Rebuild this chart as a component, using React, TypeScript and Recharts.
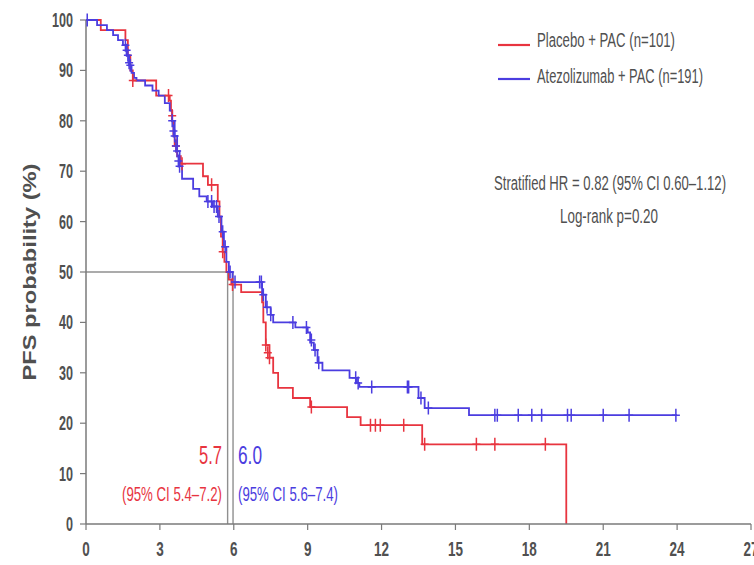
import React from "react";
import { ComposedChart, Line, Scatter, XAxis, YAxis, ReferenceLine } from "recharts";

const X_TICKS = [0, 3, 6, 9, 12, 15, 18, 21, 24, 27];
const Y_TICKS = [0, 10, 20, 30, 40, 50, 60, 70, 80, 90, 100];

// Placebo + PAC (n=101) — Kaplan–Meier steps (months, PFS %)
const PLACEBO_T = [0, 0.6, 1.6, 1.7, 1.8, 1.9, 2.85, 3.4, 3.45, 3.5, 3.55, 3.6, 3.7, 3.85, 4.75, 4.95, 5.35, 5.42, 5.48, 5.55, 5.62, 5.7, 5.8, 5.9, 6.3, 7.15, 7.2, 7.3, 7.45, 7.6, 7.8, 8.4, 9.1, 10.6, 11.15, 13.65, 19.5];
const PLACEBO_S = [100, 98, 96, 93, 90, 88, 85, 84, 82, 80, 77, 75, 73, 71.5, 69, 67.3, 64, 61, 57, 54, 52, 50, 48.5, 47.5, 46, 44, 40, 35.5, 33, 30, 27, 25, 23.2, 21.2, 19.6, 15.8, 0];

// Atezolizumab + PAC (n=191)
const ATEZO_T = [0, 0.45, 0.85, 1.1, 1.3, 1.5, 1.65, 1.75, 1.85, 1.95, 2.05, 2.4, 2.7, 2.95, 3.2, 3.4, 3.5, 3.6, 3.7, 3.8, 3.9, 4.35, 4.6, 4.9, 5.15, 5.35, 5.5, 5.6, 5.7, 5.8, 5.95, 7.15, 7.3, 7.5, 7.6, 8.5, 9.0, 9.1, 9.25, 9.4, 9.6, 10.7, 11.0, 11.1, 13.5, 13.75, 15.55, 24.0];
const ATEZO_S = [100, 99, 98, 97, 96, 95, 93, 91, 89.5, 88.5, 88, 87, 86, 85, 83.5, 82, 80, 77, 74, 71, 68.5, 66.5, 65, 64, 63, 61, 58, 55, 52, 50, 48, 45.5, 43, 41.5, 40, 39, 38, 36, 34.5, 32, 30.5, 29, 28, 27.2, 25, 23, 21.6, 21.6];

// Censoring marks
const PLACEBO_CENSOR_T = [1.9, 3.35, 3.5, 3.65, 3.9, 5.1, 5.55, 5.95, 7.3, 7.38, 7.45, 9.15, 11.55, 11.75, 11.95, 12.9, 13.75, 15.85, 16.6, 18.65];
const PLACEBO_CENSOR_S = [88, 85, 81, 75, 71.5, 67.3, 54, 47.5, 35.5, 34, 33, 23.2, 19.6, 19.6, 19.6, 19.6, 15.8, 15.8, 15.8, 15.8];
const ATEZO_CENSOR_T = [0.05, 1.6, 1.65, 1.7, 1.75, 1.8, 3.5, 3.55, 3.6, 3.65, 3.7, 3.75, 3.8, 4.95, 5.1, 5.2, 5.3, 5.4, 5.55, 5.65, 5.85, 6.05, 7.05, 7.12, 7.2, 7.35, 7.5, 8.4, 8.95, 9.15, 9.3, 9.45, 10.95, 11.05, 11.6, 13.05, 13.1, 13.6, 13.9, 16.6, 16.7, 17.55, 18.1, 18.5, 19.55, 19.7, 21.0, 22.05, 23.95];
const ATEZO_CENSOR_S = [100, 95, 94, 93, 91.5, 91, 80, 78, 77, 75, 74, 72, 71, 64, 64, 63, 63, 61, 58, 55, 50, 48, 48, 48, 45.5, 43, 41.5, 40, 39, 36.5, 34.5, 32, 29, 28, 27.2, 27.2, 27.2, 25, 23, 21.6, 21.6, 21.6, 21.6, 21.6, 21.6, 21.6, 21.6, 21.6, 21.6];

// Median PFS guide lines (drawn positions) and labels
const MEDIAN_PLACEBO_X = 5.75;
const MEDIAN_ATEZO_X = 5.97;
const MEDIAN_Y = 50;

const SERIES_NAMES = ["Placebo + PAC (n=101)", "Atezolizumab + PAC (n=191)"];
const HR_TEXT = "Stratified HR = 0.82 (95% CI 0.60\u20131.12)";
const P_TEXT = "Log-rank p=0.20";
const MEDIAN_LABELS = ["5.7", "6.0"];
const MEDIAN_CI = ["(95% CI 5.4\u20137.2)", "(95% CI 5.6\u20137.4)"];
const Y_LABEL = "PFS probability (%)";

const RED = "#e8343f";
const BLUE = "#4b3de0";
const GRAY_TEXT = "#505050";
const AXIS = "#7a7a7a";
const FONT = "'Liberation Sans Narrow','Liberation Sans',Arial,sans-serif";

const zip = (t: number[], s: number[]) => t.map((v, i) => ({ t: v, s: s[i] }));
const placeboData = zip(PLACEBO_T, PLACEBO_S);
const atezoData = zip(ATEZO_T, ATEZO_S);
const placeboCensor = zip(PLACEBO_CENSOR_T, PLACEBO_CENSOR_S);
const atezoCensor = zip(ATEZO_CENSOR_T, ATEZO_CENSOR_S);

const makeCross = (color: string) => (props: any) => {
  const { cx, cy } = props;
  if (cx == null || cy == null) return <g />;
  return (
    <path
      d={`M${cx - 4},${cy}H${cx + 4}M${cx},${cy - 6.5}V${cy + 6.5}`}
      stroke={color}
      strokeWidth={1.5}
      fill="none"
    />
  );
};

const YTick = (props: any) => {
  const { x, y, payload } = props;
  const label = String(payload.value);
  return (
    <text
      x={x}
      y={y + 7}
      textAnchor="end"
      fontSize={20}
      fontWeight="bold"
      fill={GRAY_TEXT}
      fontFamily={FONT}
      textLength={label.length * 7}
      lengthAdjust="spacingAndGlyphs"
    >
      {label}
    </text>
  );
};

const XTick = (props: any) => {
  const { x, y, payload } = props;
  const label = String(payload.value);
  return (
    <text
      x={x}
      y={y + 24}
      textAnchor="middle"
      fontSize={20}
      fontWeight="bold"
      fill={GRAY_TEXT}
      fontFamily={FONT}
      textLength={label.length * 7.5}
      lengthAdjust="spacingAndGlyphs"
    >
      {label}
    </text>
  );
};

const T = (p: any) => (
  <text fontFamily={FONT} lengthAdjust="spacingAndGlyphs" {...p} />
);

export default function App() {
  return (
    <div style={{ position: "absolute", left: 0, top: 0, width: 754, height: 565, background: "#fff", overflow: "hidden" }}>
      <ComposedChart
        width={754}
        height={565}
        margin={{ top: 20, right: 3, bottom: 0, left: 0 }}
      >
        <XAxis
          type="number"
          dataKey="t"
          domain={[0, 27]}
          ticks={X_TICKS}
          interval={0}
          allowDataOverflow
          height={41}
          tickSize={6}
          tick={<XTick />}
          axisLine={{ stroke: AXIS, strokeWidth: 1.5 }}
          tickLine={{ stroke: AXIS, strokeWidth: 1.2 }}
        />
        <YAxis
          type="number"
          domain={[0, 100]}
          ticks={Y_TICKS}
          interval={0}
          width={86}
          tickSize={6}
          tickMargin={7}
          tick={<YTick />}
          axisLine={{ stroke: AXIS, strokeWidth: 1.5 }}
          tickLine={{ stroke: AXIS, strokeWidth: 1.2 }}
        />
        <ReferenceLine
          segment={[{ x: 0, y: MEDIAN_Y }, { x: MEDIAN_ATEZO_X, y: MEDIAN_Y }]}
          stroke="#8f8f8f"
          strokeWidth={1.6}
        />
        <ReferenceLine
          segment={[{ x: MEDIAN_PLACEBO_X, y: 0 }, { x: MEDIAN_PLACEBO_X, y: MEDIAN_Y }]}
          stroke="#8f8f8f"
          strokeWidth={1.4}
        />
        <ReferenceLine
          segment={[{ x: MEDIAN_ATEZO_X, y: 0 }, { x: MEDIAN_ATEZO_X, y: MEDIAN_Y }]}
          stroke="#8f8f8f"
          strokeWidth={1.4}
        />
        <Line
          data={placeboData}
          dataKey="s"
          type="stepAfter"
          stroke={RED}
          strokeWidth={1.8}
          dot={false}
          activeDot={false}
          isAnimationActive={false}
        />
        <Line
          data={atezoData}
          dataKey="s"
          type="stepAfter"
          stroke={BLUE}
          strokeWidth={1.8}
          dot={false}
          activeDot={false}
          isAnimationActive={false}
        />
        <Scatter data={placeboCensor} dataKey="s" shape={makeCross(RED)} isAnimationActive={false} />
        <Scatter data={atezoCensor} dataKey="s" shape={makeCross(BLUE)} isAnimationActive={false} />
      </ComposedChart>
      <svg
        width={754}
        height={565}
        style={{ position: "absolute", left: 0, top: 0, pointerEvents: "none" }}
      >
        {/* legend */}
        <line x1={498} x2={530} y1={45} y2={45} stroke={RED} strokeWidth={2.2} />
        <line x1={498} x2={530} y1={79} y2={79} stroke={BLUE} strokeWidth={2.2} />
        <T x={537} y={47} fontSize={20} fill={GRAY_TEXT} textLength={138}>{SERIES_NAMES[0]}</T>
        <T x={537} y={83} fontSize={20} fill={GRAY_TEXT} textLength={166}>{SERIES_NAMES[1]}</T>
        {/* stats */}
        <T x={610} y={190} fontSize={20} fill={GRAY_TEXT} textAnchor="middle" textLength={232}>{HR_TEXT}</T>
        <T x={609} y={223} fontSize={20} fill={GRAY_TEXT} textAnchor="middle" textLength={98}>{P_TEXT}</T>
        {/* medians */}
        <T x={222} y={464} fontSize={26} fill={RED} textAnchor="end" textLength={23}>{MEDIAN_LABELS[0]}</T>
        <T x={238} y={464} fontSize={26} fill={BLUE} textAnchor="start" textLength={24}>{MEDIAN_LABELS[1]}</T>
        <T x={222} y={501} fontSize={21} fill={RED} textAnchor="end" textLength={100}>{MEDIAN_CI[0]}</T>
        <T x={238} y={501} fontSize={21} fill={BLUE} textAnchor="start" textLength={100}>{MEDIAN_CI[1]}</T>
        {/* y label */}
        <T
          x={36}
          y={272}
          fontSize={18}
          fontWeight="bold"
          fill={GRAY_TEXT}
          textAnchor="middle"
          textLength={217}
          transform="rotate(-90 36 272)"
        >
          {Y_LABEL}
        </T>
      </svg>
    </div>
  );
}
